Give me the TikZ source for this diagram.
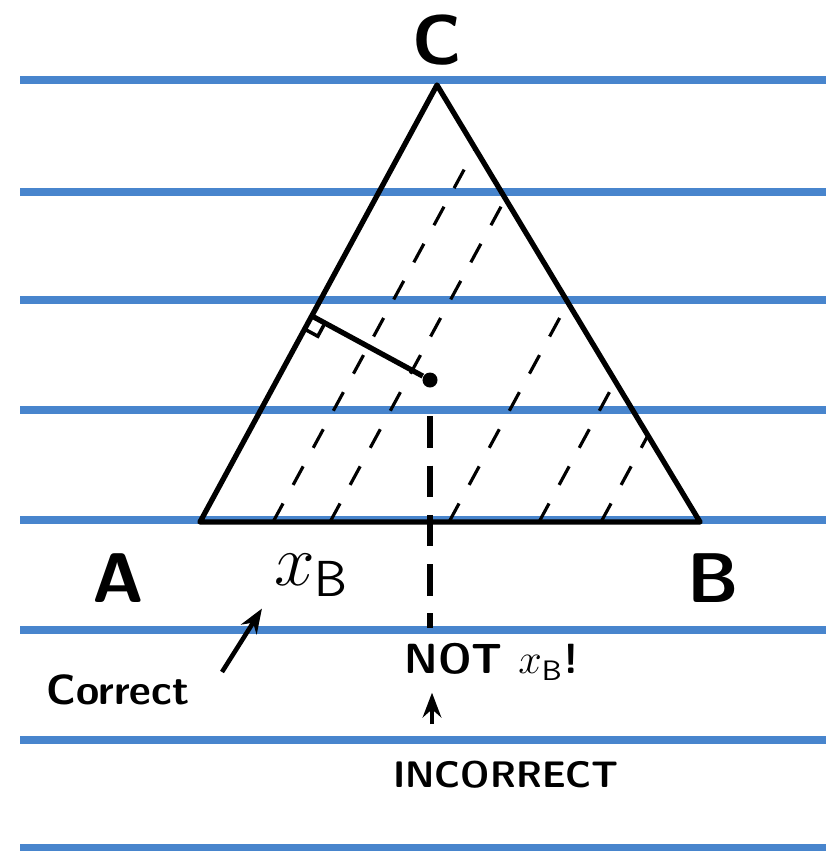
\documentclass[tikz,border=0pt]{standalone}
\usetikzlibrary{arrows.meta, calc, positioning}
\definecolor{ruleblue}{RGB}{72,133,205}

\begin{document}
\begin{tikzpicture}[x=0.01cm, y=-0.01cm,
      ruling/.style={draw=ruleblue, line width=2pt},
      edge/.style={line width=1.5pt, line join=round},
      guide/.style={line width=0.9pt, dash pattern=on 6pt off 6pt},
      drop/.style={line width=1.7pt, dash pattern=on 9pt off 5pt, shorten <=8pt},
      rightangle/.style={line width=1pt},
      corner/.style={font=\sffamily\bfseries\fontsize{20}{22}\selectfont},
      note/.style={font=\sffamily\bfseries\fontsize{12}{14}\selectfont},
      pointer/.style={-{Stealth[length=7pt]}, line width=1.3pt}
    ]
    \useasboundingbox (0,0) rectangle (826,851);
    % ruled paper
    \foreach \y in {80,192,300,410,520,630,740,848}
      \draw[ruling] (20,\y) -- (826,\y);

    \coordinate (A) at (200,522);
    \coordinate (B) at (700,522);
    \coordinate (C) at (437,85);
    \draw[edge] (A) -- (B) -- (C) -- cycle;

    % lines of constant x_B, parallel to AC
    \foreach \bx [count=\i] in {273,330,449,539,601} {
      \coordinate (s\i) at (\bx,522);
      \coordinate (t\i) at ($(B)!{(700-\bx)/500}!(C)$);
      \draw[guide] (s\i) -- (t\i);
    }

    \node[circle, fill, inner sep=0pt, minimum size=0.15cm] (P) at (430,380) {};
    \coordinate (F) at ($(A)!(P)!(C)$);
    \draw[edge] (P) -- (F);
    \coordinate (Fa) at ($(F)!0.15cm!(A)$);
    \coordinate (Fp) at ($(F)!0.15cm!(P)$);
    \draw[rightangle] (Fa) -- ($(Fa)+(Fp)-(F)$) -- (Fp);

    \coordinate (foot) at (430,628);
    \draw[drop] (P) -- (foot);

    \node[corner] (labC) at (437,40)  {C};
    \node[corner] (labA) at (118,578) {A};
    \node[corner] (labB) at (713,578) {B};
    \node[corner] (xB)   at (312,575) {$x_{\mathsf{B}}$};

    \node[note] (correct) at (118,690) {Correct};
    \coordinate (ctail) at (222,672);
    \draw[pointer] (ctail) -- (xB.south west);

    \node[note] (notxB)     at (492,662) {NOT $x_{\mathsf{B}}$!};
    \node[note, font=\sffamily\bfseries\fontsize{10.5}{12}\selectfont]
      (incorrect) at (506,775) {INCORRECT};
    \coordinate (itail) at (432,724);
    \draw[pointer] (itail) -- (itail |- notxB.south);
  \end{tikzpicture}
\end{document}
